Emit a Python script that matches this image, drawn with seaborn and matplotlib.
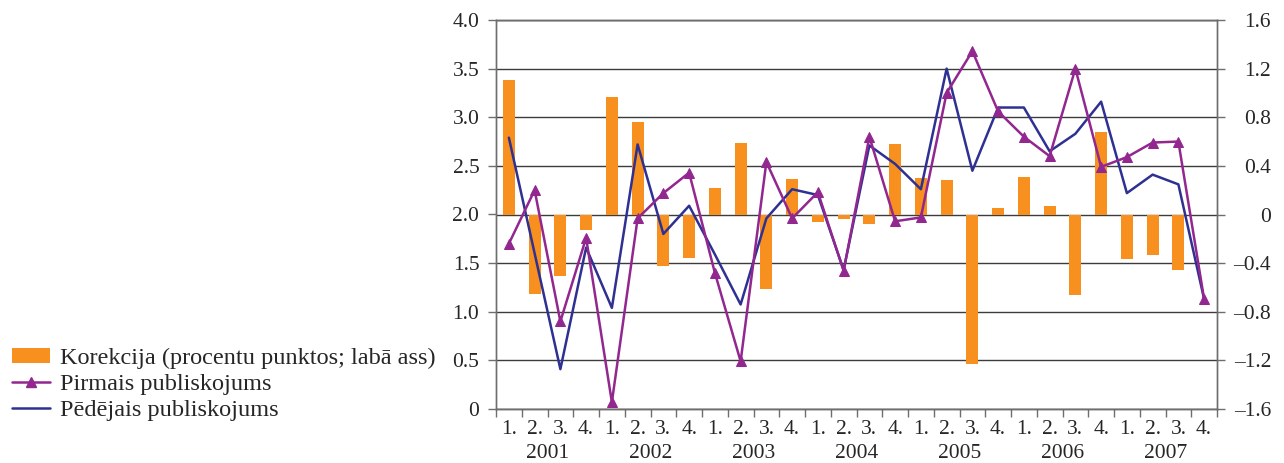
import numpy as np
import pandas as pd
import matplotlib
matplotlib.use("Agg")
import matplotlib.pyplot as plt
import matplotlib.transforms as mtransforms
from matplotlib.patches import Patch
from matplotlib.lines import Line2D
from matplotlib.ticker import FixedLocator, FuncFormatter
import seaborn as sns

# Quarterly data, 2001 Q1 - 2007 Q4
years = ["2001", "2002", "2003", "2004", "2005", "2006", "2007"]
quarters = ["1.", "2.", "3.", "4."]

# Revision (percentage points; right axis)
korekcija = [1.11, -0.65, -0.51, -0.13,
             0.97, 0.76, -0.42, -0.36,
             0.22, 0.59, -0.61, 0.29,
             -0.065, -0.035, -0.08, 0.58,
             0.30, 0.28, -1.23, 0.05,
             0.31, 0.066, -0.66, 0.68,
             -0.37, -0.33, -0.46, 0.0]

# First release (left axis)
pirmais = [1.70, 2.25, 0.90, 1.76,
           0.07, 1.96, 2.22, 2.43,
           1.40, 0.49, 2.54, 1.96,
           2.23, 1.42, 2.80, 1.93,
           1.97, 3.25, 3.68, 3.06,
           2.80, 2.60, 3.50, 2.49,
           2.59, 2.74, 2.75, 1.13]

# Latest release (left axis)
pedejais = [2.79, 1.60, 0.41, 1.66,
            1.04, 2.72, 1.80, 2.09,
            1.59, 1.075, 1.96, 2.26,
            2.20, 1.43, 2.71, 2.52,
            2.26, 3.50, 2.45, 3.10,
            3.10, 2.65, 2.83, 3.16,
            2.22, 2.41, 2.31, 1.13]

ORANGE = "#F7901E"
PURPLE = "#92278F"
BLUE = "#2E3192"
GRID = "#3c3c3c"
SPINE = "#6e6e6e"

sns.set_theme(style="white")
plt.rcParams["font.family"] = ["Liberation Serif", "DejaVu Serif"]
plt.rcParams["axes.unicode_minus"] = False
FS = 15.5
FS_LEG = 17.5

n = len(korekcija)
pos = np.arange(n)
df = pd.DataFrame({"pos": pos, "korekcija": korekcija,
                   "pirmais": pirmais, "pedejais": pedejais})

fig = plt.figure(figsize=(12.84, 4.63), dpi=100)
ax_bar = fig.add_axes([496 / 1284, 1 - 409 / 463, (1217 - 496) / 1284, (409 - 20) / 463])
ax_line = ax_bar.twinx()

# Bars: revision on the right-hand scale
sns.barplot(data=df, x="pos", y="korekcija", color=ORANGE, saturation=1,
            width=0.47, linewidth=0, ax=ax_bar, order=list(pos))

# Lines: first and latest release on the left-hand scale
sns.lineplot(data=df, x="pos", y="pedejais", color=BLUE, linewidth=1.8,
             ax=ax_line, legend=False)
sns.lineplot(data=df, x="pos", y="pirmais", color=PURPLE, linewidth=1.8,
             marker="^", markersize=7, markeredgecolor=PURPLE,
             ax=ax_line, legend=False)

ax_bar.set_xlim(-0.5, n - 0.5)
ax_bar.set_ylim(-1.6, 1.6)
ax_line.set_ylim(0, 4.0)

def dash_fmt(v, _):
    s = "0" if abs(v) < 1e-9 else f"{v:.1f}"
    return s.replace("-", "\u2013")

# Right axis (bars)
ax_bar.yaxis.set_ticks_position("right")
ax_bar.yaxis.set_label_position("right")
ax_bar.yaxis.set_major_locator(FixedLocator(np.linspace(-1.6, 1.6, 9)))
ax_bar.yaxis.set_major_formatter(FuncFormatter(dash_fmt))
ax_bar.tick_params(axis="y", which="major", direction="out", length=6,
                   width=1, color=SPINE, labelsize=FS, pad=33,
                   right=True, left=False, labelright=True, labelleft=False)
for lab in ax_bar.get_yticklabels():
    lab.set_horizontalalignment("right")

# Left axis (lines)
ax_line.yaxis.set_ticks_position("left")
ax_line.yaxis.set_label_position("left")
ax_line.yaxis.set_major_locator(FixedLocator(np.linspace(0, 4.0, 9)))
ax_line.yaxis.set_major_formatter(FuncFormatter(dash_fmt))
ax_line.tick_params(axis="y", which="major", direction="out", length=6,
                    width=1, color=SPINE, labelsize=FS, pad=6,
                    left=True, right=False, labelleft=True, labelright=False)

# Horizontal gridlines behind the bars
ax_bar.set_axisbelow(True)
ax_bar.yaxis.grid(True, color=GRID, linewidth=1)
ax_bar.xaxis.grid(False)

# Category axis: quarter labels, boundary ticks and year labels
ax_bar.set_xticks(pos)
ax_bar.set_xticklabels(quarters * len(years))
ax_bar.set_xticks(np.arange(-0.5, n, 1.0), minor=True)
ax_bar.tick_params(axis="x", which="major", length=0, labelsize=FS, pad=8)
ax_bar.tick_params(axis="x", which="minor", direction="out", length=6,
                   width=1, color=SPINE, bottom=True)
ax_bar.set_xlabel("")
ax_bar.set_ylabel("")
ax_line.set_xlabel("")
ax_line.set_ylabel("")

trans = mtransforms.blended_transform_factory(ax_bar.transData, ax_bar.transAxes)
for i, yr in enumerate(years):
    ax_bar.text(i * 4 + 1.5, -(458 - 409) / 389, yr, transform=trans,
                ha="center", va="baseline", fontsize=FS)

for a in (ax_bar, ax_line):
    for sp in a.spines.values():
        sp.set_color(SPINE)
        sp.set_linewidth(1)
ax_bar.spines["top"].set_color(GRID)
ax_bar.spines["bottom"].set_color(GRID)

# Legend in the lower-left corner of the figure
handles = [
    Patch(facecolor=ORANGE, edgecolor="none"),
    Line2D([], [], color=PURPLE, linewidth=1.8, marker="^", markersize=7),
    Line2D([], [], color=BLUE, linewidth=1.8),
]
labels = ["Korekcija (procentu punktos; labā ass)",
          "Pirmais publiskojums",
          "Pēdējais publiskojums"]
fig.legend(handles, labels, loc="upper left",
           bbox_to_anchor=(12 / 1284, 1 - 348 / 463), frameon=False,
           fontsize=FS_LEG, handlelength=1.56, handleheight=0.53,
           handletextpad=0.4, labelspacing=0.2, borderpad=0,
           borderaxespad=0)

fig.savefig("out.png", dpi=100)
